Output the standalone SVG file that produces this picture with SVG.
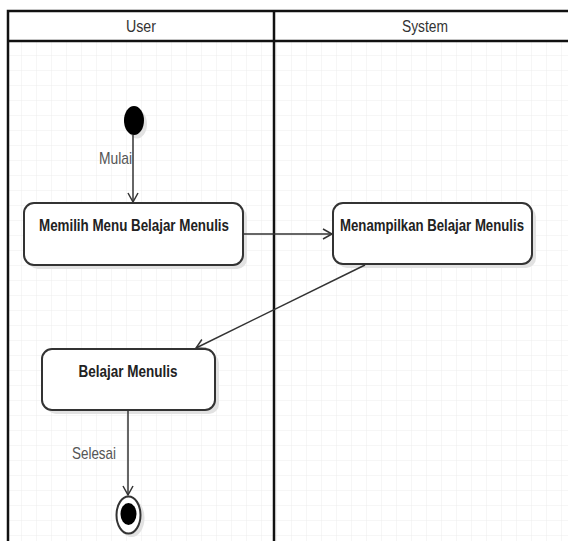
<svg xmlns="http://www.w3.org/2000/svg" width="568" height="541" viewBox="0 0 568 541">
<style>
.lane{fill:none;stroke:#111;stroke-width:2.5}
.hdr{font-family:"Liberation Sans",Arial,sans-serif;font-size:16px;fill:#333;text-anchor:middle}
.box{fill:#fff;stroke:#333;stroke-width:2}
.shadow{fill:#e2e2e2}
.lbl{font-family:"Liberation Sans",Arial,sans-serif;font-size:17px;font-weight:bold;fill:#222;text-anchor:middle}
.edge{fill:none;stroke:#333;stroke-width:1.5}
.elbl{font-family:"Liberation Sans",Arial,sans-serif;font-size:17px;fill:#555}
</style>
<defs>
<pattern id="grid" width="15" height="15" patternUnits="userSpaceOnUse" x="7" y="41">
<path d="M15 0V15M0 15H15" fill="none" stroke="#ececec" stroke-width="1"/>
</pattern>
<marker id="arr" markerWidth="12" markerHeight="12" refX="10" refY="6" orient="auto" markerUnits="userSpaceOnUse">
<path d="M1 1L10 6L1 11" fill="none" stroke="#333" stroke-width="1.5"/>
</marker>
</defs>
<rect width="568" height="541" fill="#fff"/>
<rect x="8" y="41" width="560" height="500" fill="url(#grid)"/>
<g id="swimlanes">
<path class="lane" d="M8 541V11H568M8 41H568M274 11V541"/>
<text class="hdr" x="141" y="32" textLength="30" lengthAdjust="spacingAndGlyphs">User</text>
<text class="hdr" x="425" y="32" textLength="46" lengthAdjust="spacingAndGlyphs">System</text>
</g>
<g id="start">
<ellipse cx="137" cy="124" rx="10" ry="14.5" fill="#e2e2e2"/>
<ellipse cx="134" cy="120.5" rx="10" ry="14.5" fill="#000"/>
</g>
<g id="memilih">
<rect class="shadow" x="28" y="207" width="219" height="62" rx="10"/>
<rect class="box" x="24" y="203" width="219" height="62" rx="10"/>
<text class="lbl" x="134" y="231" textLength="190" lengthAdjust="spacingAndGlyphs">Memilih Menu Belajar Menulis</text>
</g>
<g id="menampilkan">
<rect class="shadow" x="337" y="207" width="199" height="61" rx="10"/>
<rect class="box" x="333" y="203" width="199" height="61" rx="10"/>
<text class="lbl" x="432" y="231" textLength="184" lengthAdjust="spacingAndGlyphs">Menampilkan Belajar Menulis</text>
</g>
<g id="belajar">
<rect class="shadow" x="46" y="353" width="173" height="61" rx="10"/>
<rect class="box" x="42" y="349" width="173" height="61" rx="10"/>
<text class="lbl" x="128" y="377" textLength="99" lengthAdjust="spacingAndGlyphs">Belajar Menulis</text>
</g>
<g id="end">
<ellipse cx="131.5" cy="518" rx="13" ry="19" fill="#e2e2e2"/>
<ellipse cx="128.5" cy="515" rx="12" ry="18.5" fill="#fff" stroke="#333" stroke-width="2"/>
<ellipse cx="128.5" cy="514" rx="8" ry="11" fill="#000"/>
</g>
<g id="connectors">
<path class="edge" d="M133 135V202" marker-end="url(#arr)"/>
<text class="elbl" x="99" y="164" textLength="33" lengthAdjust="spacingAndGlyphs">Mulai</text>
<path class="edge" d="M243 234H332" marker-end="url(#arr)"/>
<path class="edge" d="M365 265L196 348" marker-end="url(#arr)"/>
<path class="edge" d="M128 410V495" marker-end="url(#arr)"/>
<text class="elbl" x="72" y="459" textLength="44" lengthAdjust="spacingAndGlyphs">Selesai</text>
</g>
</svg>
